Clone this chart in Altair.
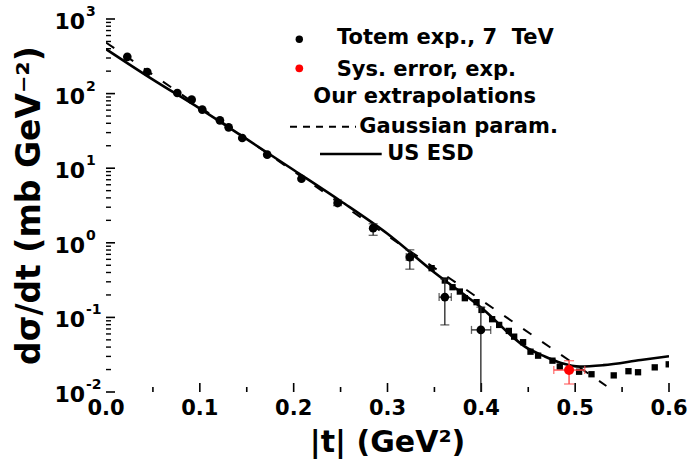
import altair as alt
import pandas as pd

# TOTEM elastic pp data at 7 TeV: |t| (GeV^2) and dsigma/dt (mb/GeV^2)
totem_t = [0.0227, 0.044, 0.076, 0.0913, 0.1026, 0.1214, 0.1307, 0.1452,
           0.1718, 0.2083, 0.2468, 0.2847, 0.3238, 0.3611, 0.3995]
totem_y = [311, 195, 102, 83, 61, 43.8, 35.3, 25.4,
           15.2, 7.23, 3.41, 1.57, 0.643, 0.187, 0.068]

# vertical error bars (points where they are visible)
verr_t = [0.2468, 0.2847, 0.3238, 0.3611, 0.3995]
verr_lo = [3.15, 1.26, 0.443, 0.0793, 0.009]
verr_hi = [3.75, 1.80, 0.805, 0.326, 0.137]

# horizontal error bars
herr_y = [0.643, 0.187, 0.068]
herr_lo = [0.3200, 0.3550, 0.3895]
herr_hi = [0.3276, 0.3680, 0.4100]

# point with systematic error
sys_t = [0.4935]
sys_y = [0.0197]
sys_ylo = [0.0128]
sys_yhi = [0.0263]
sys_tlo = [0.4772]
sys_thi = [0.5102]

# extrapolated points (squares)
sq_t = [0.347, 0.3611, 0.3693, 0.3771, 0.3824, 0.3949, 0.4002, 0.4115, 0.419,
        0.4293, 0.435, 0.4445, 0.4524, 0.4605, 0.4758, 0.4836, 0.5042, 0.5174,
        0.5411, 0.5568, 0.567, 0.5848, 0.5997]
sq_y = [0.457, 0.312, 0.254, 0.222, 0.181, 0.160, 0.126, 0.0946, 0.0793,
        0.0659, 0.0552, 0.0465, 0.0347, 0.0307, 0.0263, 0.0219, 0.0187, 0.0173,
        0.0167, 0.0190, 0.0184, 0.0214, 0.0235]

# US ESD curve
esd_t = [0.0, 0.05, 0.1, 0.15, 0.2, 0.25, 0.3, 0.35, 0.4, 0.45,
         0.465, 0.485, 0.505, 0.53, 0.57, 0.6]
esd_y = [395, 154, 63, 24.5, 9.46, 3.63, 1.32, 0.40, 0.135, 0.038,
         0.031, 0.0245, 0.0219, 0.0229, 0.0269, 0.0302]

# Gaussian parametrisation (straight line on the log scale)
gauss_t = [0.0, 0.5333]
gauss_y = [484, 0.01205]

# axis ticks and labels
x_labels = [0.0, 0.1, 0.2, 0.3, 0.4, 0.5, 0.6]
x_major = [0.1, 0.2, 0.3, 0.4, 0.5, 0.6]
x_minor = [0.05, 0.15, 0.25, 0.35, 0.45, 0.55]
y_decades = [0.01, 0.1, 1, 10, 100, 1000]
y_exps = ["-2", "-1", "0", "1", "2", "3"]
y_minor = [k * d for d in [0.01, 0.1, 1, 10, 100] for k in range(2, 10)]

W, H = 563, 373
FONT = "DejaVu Sans"

xs = alt.Scale(domain=[0, 0.6], nice=False, zero=False)
ys = alt.Scale(type="log", domain=[0.01, 1000], nice=False)


def qx(f):
    return alt.X(f, type="quantitative", scale=xs, axis=None)


def qy(f):
    return alt.Y(f, type="quantitative", scale=ys, axis=None)


def one():
    return pd.DataFrame({"a": [0]})


# axis lines
axes = alt.Chart(pd.DataFrame({"t": [0.0], "y": [1.0]})).mark_point(opacity=0).encode(
    x=alt.X("t:Q", scale=xs, axis=alt.Axis(
        ticks=False, labels=False, grid=False, domainColor="black",
        domainWidth=2, title=None)),
    y=alt.Y("y:Q", scale=ys, axis=alt.Axis(
        ticks=False, labels=False, grid=False, domainColor="black",
        domainWidth=2, title=None)),
)

# inward ticks
xmaj = alt.Chart(pd.DataFrame({"v": x_major})).mark_rule(color="black", strokeWidth=1.6).encode(
    x=qx("v"), y=alt.value(H), y2=alt.value(H - 9))
xmin = alt.Chart(pd.DataFrame({"v": x_minor})).mark_rule(color="black", strokeWidth=1.6).encode(
    x=qx("v"), y=alt.value(H), y2=alt.value(H - 5))
ymaj = alt.Chart(pd.DataFrame({"v": y_decades})).mark_rule(color="black", strokeWidth=1.6).encode(
    y=qy("v"), x=alt.value(0), x2=alt.value(9))
ymin = alt.Chart(pd.DataFrame({"v": y_minor})).mark_rule(color="black", strokeWidth=1.4).encode(
    y=qy("v"), x=alt.value(0), x2=alt.value(5))

# tick labels
xlab = alt.Chart(pd.DataFrame({"v": x_labels})).mark_text(
    font=FONT, fontWeight="bold", fontSize=21, align="center", baseline="middle",
    color="black").encode(x=qx("v"), y=alt.value(H + 17), text=alt.Text("v:Q", format=".1f"))

dec_df = pd.DataFrame({"v": y_decades, "e": y_exps})
ylab = alt.Chart(dec_df).mark_text(
    font=FONT, fontWeight="bold", fontSize=22, align="right", baseline="middle",
    dy=3, color="black").encode(y=qy("v"), x=alt.value(-21), text=alt.value("10"))
yexp = alt.Chart(dec_df).mark_text(
    font=FONT, fontWeight="bold", fontSize=14, align="left", baseline="middle",
    dy=-7, color="black").encode(y=qy("v"), x=alt.value(-20), text="e:N")

# axis titles
xtitle = alt.Chart(one()).mark_text(
    font=FONT, fontWeight="bold", fontSize=30, align="center", baseline="middle",
    color="black", text="|t| (GeV²)").encode(x=alt.value(W / 2), y=alt.value(424))
ytitle = alt.Chart(one()).mark_text(
    font=FONT, fontWeight="bold", fontSize=33, align="center", baseline="middle",
    angle=270, color="black", text="dσ/dt (mb GeV⁻²)").encode(
    x=alt.value(-76), y=alt.value(H / 2))

# curves
gauss = alt.Chart(pd.DataFrame({"t": gauss_t, "y": gauss_y})).mark_line(
    color="black", strokeWidth=2, strokeDash=[10, 13], clip=True).encode(x=qx("t"), y=qy("y"))
esd = alt.Chart(pd.DataFrame({"t": esd_t, "y": esd_y})).mark_line(
    color="black", strokeWidth=2.6, interpolate="monotone", clip=True).encode(x=qx("t"), y=qy("y"))

squares = alt.Chart(pd.DataFrame({"t": sq_t, "y": sq_y})).mark_square(
    color="black", size=40, opacity=1, clip=True).encode(x=qx("t"), y=qy("y"))

# error bars for the data
EC = "#222222"
vdf = pd.DataFrame({"t": verr_t, "lo": verr_lo, "hi": verr_hi})
vbar = alt.Chart(vdf).mark_rule(color=EC, strokeWidth=1.3, clip=True).encode(
    x=qx("t"), y=qy("lo"), y2="hi")
vcap_lo = alt.Chart(vdf).mark_tick(color=EC, orient="horizontal", size=9, thickness=1.3, clip=True).encode(
    x=qx("t"), y=qy("lo"))
vcap_hi = alt.Chart(vdf).mark_tick(color=EC, orient="horizontal", size=9, thickness=1.3, clip=True).encode(
    x=qx("t"), y=qy("hi"))
hdf = pd.DataFrame({"y": herr_y, "lo": herr_lo, "hi": herr_hi})
hbar = alt.Chart(hdf).mark_rule(color=EC, strokeWidth=1.3).encode(
    y=qy("y"), x=qx("lo"), x2="hi")
hcap_lo = alt.Chart(hdf).mark_tick(color=EC, orient="vertical", size=8, thickness=1.3).encode(
    y=qy("y"), x=qx("lo"))
hcap_hi = alt.Chart(hdf).mark_tick(color=EC, orient="vertical", size=8, thickness=1.3).encode(
    y=qy("y"), x=qx("hi"))

circles = alt.Chart(pd.DataFrame({"t": totem_t, "y": totem_y})).mark_circle(
    color="black", size=75, opacity=1).encode(x=qx("t"), y=qy("y"))

# systematic-error point (red)
sdf = pd.DataFrame({"t": sys_t, "y": sys_y, "ylo": sys_ylo, "yhi": sys_yhi,
                    "tlo": sys_tlo, "thi": sys_thi})
RED = "#ff4a4a"
s_v = alt.Chart(sdf).mark_rule(color=RED, strokeWidth=1.4).encode(x=qx("t"), y=qy("ylo"), y2="yhi")
s_h = alt.Chart(sdf).mark_rule(color=RED, strokeWidth=1.4).encode(y=qy("y"), x=qx("tlo"), x2="thi")
s_c1 = alt.Chart(sdf).mark_tick(color=RED, orient="horizontal", size=10, thickness=1.4).encode(x=qx("t"), y=qy("ylo"))
s_c2 = alt.Chart(sdf).mark_tick(color=RED, orient="horizontal", size=10, thickness=1.4).encode(x=qx("t"), y=qy("yhi"))
s_c3 = alt.Chart(sdf).mark_tick(color=RED, orient="vertical", size=8, thickness=1.4).encode(y=qy("y"), x=qx("tlo"))
s_c4 = alt.Chart(sdf).mark_tick(color=RED, orient="vertical", size=8, thickness=1.4).encode(y=qy("y"), x=qx("thi"))
s_pt = alt.Chart(sdf).mark_circle(color="#ff0000", size=100, opacity=1).encode(x=qx("t"), y=qy("y"))


# legend
def legend_text(s, x, y):
    return alt.Chart(one()).mark_text(
        font=FONT, fontWeight="bold", fontSize=21, align="left", baseline="middle",
        color="black", text=s).encode(x=alt.value(x), y=alt.value(y))


leg = [
    alt.Chart(one()).mark_circle(color="black", size=55, opacity=1).encode(
        x=alt.value(193.3), y=alt.value(20.3)),
    alt.Chart(one()).mark_circle(color="#ff0000", size=60, opacity=1).encode(
        x=alt.value(193.3), y=alt.value(49.3)),
    legend_text("Totem exp., 7\u00a0 TeV", 231, 19.3),
    legend_text("Sys. error, exp.", 230.7, 51),
    legend_text("Our extrapolations", 207.3, 78.3),
    alt.Chart(one()).mark_rule(color="black", strokeWidth=2, strokeDash=[7, 6]).encode(
        x=alt.value(184), x2=alt.value(250), y=alt.value(107.7)),
    legend_text("Gaussian param.", 253.3, 107.7),
    alt.Chart(one()).mark_rule(color="black", strokeWidth=2.6).encode(
        x=alt.value(214), x2=alt.value(275.7), y=alt.value(135)),
    legend_text("US ESD", 281.3, 135),
]

chart = alt.layer(
    axes, xmaj, xmin, ymaj, ymin, xlab, ylab, yexp, xtitle, ytitle,
    gauss, esd, squares, vbar, vcap_lo, vcap_hi, hbar, hcap_lo, hcap_hi,
    circles, s_v, s_h, s_c1, s_c2, s_c3, s_c4, s_pt, *leg,
).properties(
    width=W, height=H,
    autosize=alt.AutoSizeParams(type="none"),
    padding={"left": 106, "top": 19, "right": 20, "bottom": 67},
    background="white",
).configure_view(stroke=None)

chart.save("out.html", embed_options={"renderer": "svg", "actions": False})
